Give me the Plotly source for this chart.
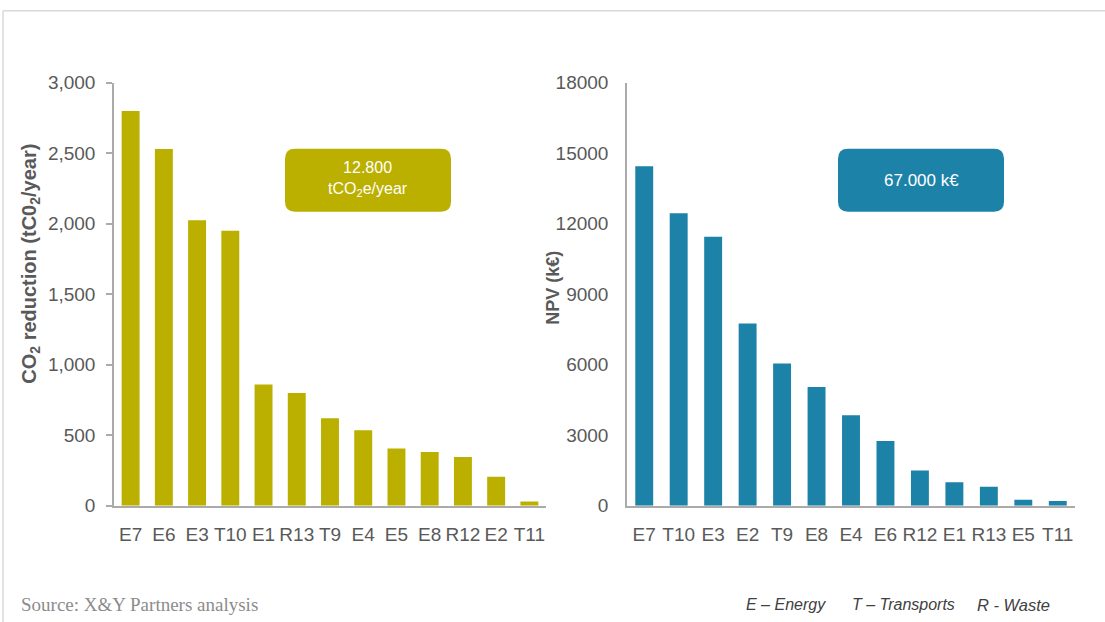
import plotly.graph_objects as go

# ---- data ----
co2_categories = ["E7", "E6", "E3", "T10", "E1", "R13", "T9", "E4", "E5", "E8", "R12", "E2", "T11"]
co2_values = [2800, 2530, 2025, 1950, 860, 800, 620, 535, 405, 380, 345, 205, 30]

npv_categories = ["E7", "T10", "E3", "E2", "T9", "E8", "E4", "E6", "R12", "E1", "R13", "E5", "T11"]
npv_values = [14450, 12450, 11450, 7750, 6050, 5050, 3850, 2750, 1500, 1000, 800, 250, 200]

co2_ticks = [0, 500, 1000, 1500, 2000, 2500, 3000]
npv_ticks = [0, 3000, 6000, 9000, 12000, 15000, 18000]

co2_total_label = "12.800<br>tCO<sub>2</sub>e/year"
npv_total_label = "67.000 k€"

OLIVE = "#BBB000"
BLUE = "#1C82A7"
AXIS = "#ABABAB"
TICK = "#595959"

W, H = 1105, 622
# empirical vertical mapping of the rendered page (offset / effective height)
Y_OFF, H_EFF = 9.2, 601.2


def px(x):
    return x / W


def py(y):
    return 1 - (y - Y_OFF) / H_EFF


def rounded_rect(x0, y0, x1, y1, r):
    X = lambda v: f"{px(v):.5f}"
    Y = lambda v: f"{py(v):.5f}"
    return (
        f"M {X(x0 + r)},{Y(y0)} L {X(x1 - r)},{Y(y0)} "
        f"Q {X(x1)},{Y(y0)} {X(x1)},{Y(y0 + r)} L {X(x1)},{Y(y1 - r)} "
        f"Q {X(x1)},{Y(y1)} {X(x1 - r)},{Y(y1)} L {X(x0 + r)},{Y(y1)} "
        f"Q {X(x0)},{Y(y1)} {X(x0)},{Y(y1 - r)} L {X(x0)},{Y(y0 + r)} "
        f"Q {X(x0)},{Y(y0)} {X(x0 + r)},{Y(y0)} Z"
    )


fig = go.Figure()
fig.add_trace(go.Bar(x=co2_categories, y=co2_values, marker=dict(color=OLIVE, line=dict(width=0)),
                     width=0.54, xaxis="x", yaxis="y", hoverinfo="x+y"))
fig.add_trace(go.Bar(x=npv_categories, y=npv_values, marker=dict(color=BLUE, line=dict(width=0)),
                     width=0.52, xaxis="x2", yaxis="y2", hoverinfo="x+y"))

font_main = "Liberation Sans, Arial, sans-serif"
ydom = [py(505), py(82)]

fig.update_layout(
    width=W, height=H, autosize=False,
    margin=dict(l=0, r=0, t=0, b=0),
    paper_bgcolor="white", plot_bgcolor="white",
    showlegend=False,
    font=dict(family=font_main, color=TICK, size=19),
    xaxis=dict(domain=[px(114), px(546)], anchor="y", showline=True, linecolor=AXIS, linewidth=1.5,
               ticks="", showgrid=False, zeroline=False, tickfont=dict(size=19, color=TICK),
               ticklabelstandoff=11, fixedrange=True),
    yaxis=dict(domain=ydom, anchor="x", range=[0, 3000], tickvals=co2_ticks, tickformat=",d",
               showline=True, linecolor=AXIS, linewidth=1.5, ticks="outside", ticklen=6,
               tickcolor=AXIS, tickwidth=1.5, showgrid=False, zeroline=False,
               tickfont=dict(size=19, color=TICK), ticklabelstandoff=7),
    xaxis2=dict(domain=[px(627), px(1075)], anchor="y2", showline=True, linecolor=AXIS, linewidth=1.5,
                ticks="", showgrid=False, zeroline=False, tickfont=dict(size=19, color=TICK),
                ticklabelstandoff=11),
    yaxis2=dict(domain=ydom, anchor="x2", range=[0, 18000], tickvals=npv_ticks, tickformat="d",
                showline=True, linecolor=AXIS, linewidth=1.5, ticks="", showgrid=False,
                zeroline=False, tickfont=dict(size=19, color=TICK), ticklabelstandoff=13),
    bargap=0.46,
)

shapes = [
    # frame lines (top and left)
    dict(type="line", xref="paper", yref="paper", x0=px(3), x1=px(1200), y0=py(10), y1=py(10),
         line=dict(color="#D9D9D9", width=1.5)),
    dict(type="line", xref="paper", yref="paper", x0=px(3), x1=px(3), y0=py(10), y1=py(700),
         line=dict(color="#D9D9D9", width=1.5)),
    # rounded total boxes
    dict(type="path", xref="paper", yref="paper", path=rounded_rect(285, 148, 451, 211, 10),
         fillcolor=OLIVE, line=dict(width=0)),
    dict(type="path", xref="paper", yref="paper", path=rounded_rect(838, 148, 1004, 211, 10),
         fillcolor=BLUE, line=dict(width=0)),
]
fig.update_layout(shapes=shapes)

annotations = [
    dict(text=co2_total_label, x=px(368), y=py(178.5), xref="paper", yref="paper", showarrow=False,
         font=dict(size=16, color="white", family=font_main), xanchor="center", yanchor="middle"),
    dict(text=npv_total_label, x=px(921), y=py(180), xref="paper", yref="paper", showarrow=False,
         font=dict(size=17, color="white", family=font_main), xanchor="center", yanchor="middle"),
    # axis titles
    dict(text="<b>CO<sub>2</sub> reduction (tC0<sub>2</sub>/year)</b>", x=px(31), y=py(263),
         xref="paper", yref="paper", showarrow=False, textangle=-90,
         font=dict(size=20, color=TICK, family=font_main), xanchor="center", yanchor="middle"),
    dict(text="<b>NPV (k€)</b>", x=px(553), y=py(287), xref="paper", yref="paper", showarrow=False,
         textangle=-90, font=dict(size=18, color=TICK, family=font_main),
         xanchor="center", yanchor="middle"),
    # footer
    dict(text="Source: X&amp;Y Partners analysis", x=px(19), y=py(604), xref="paper", yref="paper",
         showarrow=False, xanchor="left", yanchor="middle",
         font=dict(size=19, color="#8C8C8C", family="Liberation Serif, serif")),
    dict(text="<i>E – Energy</i>", x=px(744), y=py(604), xref="paper", yref="paper",
         showarrow=False, xanchor="left", yanchor="middle",
         font=dict(size=16, color="#404040", family="Liberation Sans Narrow, Liberation Sans, sans-serif")),
    dict(text="<i>T – Transports</i>", x=px(850), y=py(604), xref="paper", yref="paper",
         showarrow=False, xanchor="left", yanchor="middle",
         font=dict(size=16, color="#404040", family="Liberation Sans Narrow, Liberation Sans, sans-serif")),
    dict(text="<i>R - Waste</i>", x=px(975), y=py(604), xref="paper", yref="paper",
         showarrow=False, xanchor="left", yanchor="middle",
         font=dict(size=16.5, color="#404040", family="Liberation Sans Narrow, Liberation Sans, sans-serif")),
]
fig.update_layout(annotations=annotations)

fig.write_html("out.html", config={"displayModeBar": False})
